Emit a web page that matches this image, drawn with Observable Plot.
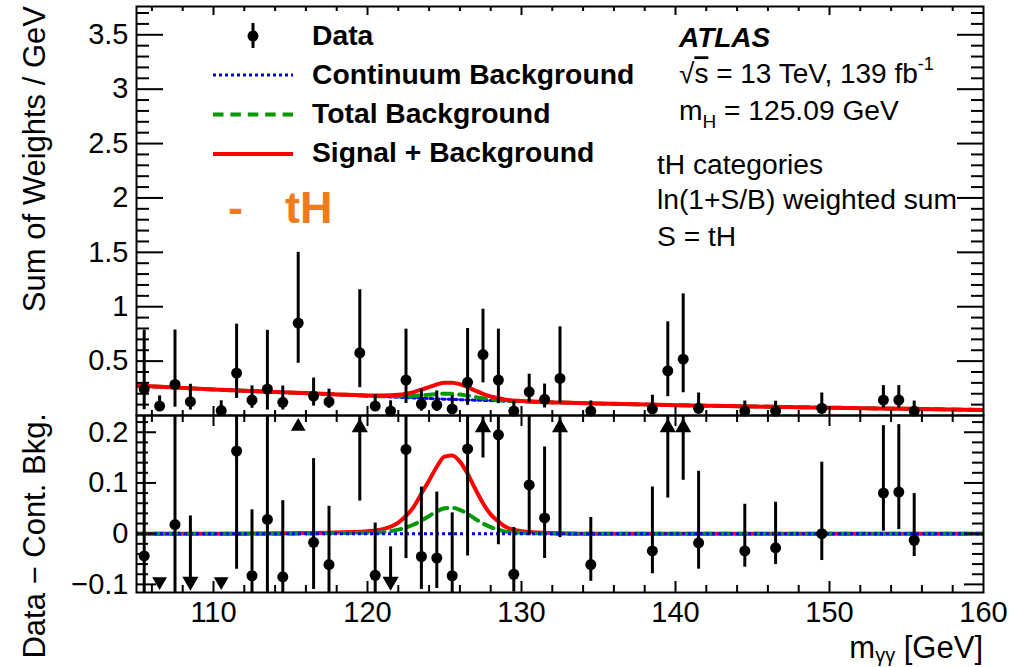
<!DOCTYPE html>
<html>
<head>
<meta charset="utf-8">
<script src="https://cdn.jsdelivr.net/npm/d3@7"></script>
<script src="https://cdn.jsdelivr.net/npm/@observablehq/plot@0.6"></script>
<style>
  body { margin: 0; background: #fff; }
  #chart { position: relative; width: 1025px; height: 667px; overflow: hidden; }
  #chart svg { position: absolute; left: 0; overflow: visible; }
</style>
</head>
<body>
<div id="chart"></div>
<script>
// Diphoton invariant-mass bins (GeV, bin centres) with data
const massBins = [105.5, 106.5, 107.5, 108.5, 110.5, 111.5, 112.5, 113.5, 114.5, 115.5,
  116.5, 117.5, 119.5, 120.5, 121.5, 122.5, 123.5, 124.5, 125.5, 126.5,
  127.5, 128.5, 129.5, 130.5, 131.5, 132.5, 134.5, 138.5, 139.5, 140.5,
  141.5, 144.5, 146.5, 149.5, 153.5, 154.5, 155.5];
// ln(1+S/B)-weighted sum per GeV
const sumWeights = [0.243, 0.087, 0.286, 0.127, 0.045, 0.390, 0.142, 0.243, 0.121, 0.850,
  0.179, 0.127, 0.576, 0.087, 0.041, 0.326, 0.105, 0.096, 0.060, 0.305,
  0.560, 0.326, 0.041, 0.218, 0.149, 0.341, 0.041, 0.060, 0.411, 0.518,
  0.066, 0.041, 0.041, 0.066, 0.142, 0.142, 0.041];
const errUp = [0.540, 0.093, 0.500, 0.160, 0.090, 0.450, 0.130, 0.540, 0.150, 0.650,
  0.165, 0.115, 0.580, 0.103, 0.094, 0.468, 0.137, 0.130, 0.124, 0.495,
  0.417, 0.468, 0.092, 0.162, 0.140, 0.474, 0.093, 0.126, 0.450, 0.600,
  0.141, 0.092, 0.090, 0.141, 0.133, 0.133, 0.092];
const errDown = [0.190, 0.050, 0.210, 0.077, 0.035, 0.233, 0.076, 0.193, 0.071, 0.370,
  0.093, 0.061, 0.320, 0.050, 0.035, 0.215, 0.065, 0.060, 0.040, 0.211,
  0.260, 0.217, 0.035, 0.100, 0.080, 0.228, 0.033, 0.045, 0.238, 0.309,
  0.052, 0.032, 0.033, 0.053, 0.075, 0.074, 0.032];
// Data minus continuum background
const residuals = [-0.044, -0.215, 0.018, -0.125, -0.215, 0.163, -0.083, 0.028, -0.085, 0.610,
  -0.017, -0.061, 0.400, -0.082, -0.120, 0.166, -0.045, -0.048, -0.083, 0.167,
  0.425, 0.195, -0.080, 0.096, 0.031, 0.236, -0.061, -0.034, 0.324, 0.430,
  -0.018, -0.034, -0.028, 0.000, 0.080, 0.082, -0.013];

// Fitted curves sampled along the mass axis
const curveMass = [105, 110, 115, 117.5, 120, 121, 122, 122.5, 123, 123.5, 124, 124.5, 125, 125.5,
  126, 126.5, 127, 127.5, 128, 128.5, 129, 130, 132.5, 135, 140, 145, 150, 155, 160];
const continuumBkg = [0.275, 0.240, 0.210, 0.195, 0.180, 0.174, 0.168, 0.165, 0.162, 0.159, 0.156, 0.153, 0.150, 0.148,
  0.146, 0.143, 0.141, 0.139, 0.137, 0.134, 0.132, 0.128, 0.119, 0.110, 0.095, 0.083, 0.072, 0.061, 0.051];
const totalBkg = [0.275, 0.240, 0.210, 0.196, 0.182, 0.177, 0.176, 0.177, 0.180, 0.185, 0.191, 0.197, 0.200, 0.199,
  0.193, 0.182, 0.170, 0.159, 0.150, 0.142, 0.136, 0.130, 0.119, 0.110, 0.095, 0.083, 0.072, 0.061, 0.051];
const signalPlusBkg = [0.275, 0.240, 0.211, 0.197, 0.185, 0.183, 0.190, 0.200, 0.215, 0.238, 0.261, 0.285, 0.302, 0.302,
  0.288, 0.261, 0.229, 0.199, 0.175, 0.158, 0.145, 0.133, 0.120, 0.110, 0.095, 0.083, 0.072, 0.061, 0.051];
const totalBkgResid = [0, 0, 0, 0.001, 0.002, 0.003, 0.008, 0.012, 0.018, 0.026, 0.035, 0.044, 0.050, 0.051,
  0.047, 0.039, 0.029, 0.020, 0.013, 0.008, 0.004, 0.002, 0, 0, 0, 0, 0, 0, 0];
const signalPlusBkgResid = [0, 0, 0.001, 0.002, 0.005, 0.009, 0.022, 0.035, 0.053, 0.079, 0.105, 0.132, 0.152, 0.154,
  0.142, 0.118, 0.088, 0.060, 0.038, 0.024, 0.013, 0.005, 0.001, 0, 0, 0, 0, 0, 0];

// Axis ticks
const massTicks = [110, 120, 130, 140, 150, 160];
const topTicks = [0.5, 1, 1.5, 2, 2.5, 3, 3.5];
const bottomTicks = [-0.1, 0, 0.1, 0.2];

const FONT = '"Liberation Sans", Arial, Helvetica, sans-serif';
const X_DOMAIN = [105, 160];
const TOP_Y = [0, 3.76];
const BOT_Y = [-0.116, 0.233];
const W = 1025, ML = 136, MR = 42, FW = W - ML - MR;
const TOP_H = 425, TOP_MT = 6, TOP_MB = 10, TOP_FH = TOP_H - TOP_MT - TOP_MB;
const BOT_H = 262, BOT_MT = 10, BOT_MB = 75, BOT_FH = BOT_H - BOT_MT - BOT_MB;
const BOT_OFFSET = 405;

const points = massBins.map((m, i) => ({
  m, w: sumWeights[i], hi: errUp[i], lo: errDown[i], r: residuals[i]
}));
const curves = curveMass.map((m, i) => ({
  m, cont: continuumBkg[i], tot: totalBkg[i], spb: signalPlusBkg[i],
  bres: totalBkgResid[i], sres: signalPlusBkgResid[i]
}));

const near = (v, step) => Math.abs(v / step - Math.round(v / step)) < 1e-6;
const minorMass = d3.range(106, 160, 2).filter(v => !near(v, 10));
const majorMass = [110, 120, 130, 140, 150];
const topMinor = d3.range(1, 38).map(k => k / 10).filter(v => !near(v, 0.5));
const botMinor = d3.range(-5, 12).map(k => k / 50).filter(v => !near(v, 0.1) && v >= BOT_Y[0] && v <= BOT_Y[1]);

// Inward ticks on all four sides of a panel frame
function frameTicks(yMajor, yMinor, yMajLen, yMinLen, xMajLen, xMinLen, FH) {
  const s = {stroke: "black", strokeWidth: 2};
  return [
    Plot.tickY(yMajor, {y: d => d, insetRight: FW - yMajLen, ...s}),
    Plot.tickY(yMajor, {y: d => d, insetLeft: FW - yMajLen + 1, ...s}),
    Plot.tickY(yMinor, {y: d => d, insetRight: FW - yMinLen, ...s}),
    Plot.tickY(yMinor, {y: d => d, insetLeft: FW - yMinLen + 1, ...s}),
    Plot.tickX(majorMass, {x: d => d, insetTop: FH - xMajLen, ...s}),
    Plot.tickX(majorMass, {x: d => d, insetBottom: FH - xMajLen, ...s}),
    Plot.tickX(minorMass, {x: d => d, insetTop: FH - xMinLen, ...s}),
    Plot.tickX(minorMass, {x: d => d, insetBottom: FH - xMinLen, ...s})
  ];
}

const baseStyle = {fontFamily: FONT, fontSize: "29px", background: "none", color: "black"};

// ---- Upper panel: weighted sum with fitted curves ----
const upperChart = Plot.plot({
  width: W, height: TOP_H,
  marginLeft: ML, marginRight: MR, marginTop: TOP_MT, marginBottom: TOP_MB,
  style: baseStyle,
  x: {domain: X_DOMAIN, axis: null},
  y: {domain: TOP_Y, axis: null},
  marks: [
    Plot.line(curves, {x: "m", y: "cont", stroke: "#0000ff", strokeWidth: 3, strokeDasharray: "3,3", curve: "monotone-x", clip: true}),
    Plot.line(curves, {x: "m", y: "tot", stroke: "#009a00", strokeWidth: 4, strokeDasharray: "10,7", curve: "monotone-x", clip: true}),
    Plot.line(curves, {x: "m", y: "spb", stroke: "#ff0000", strokeWidth: 4, curve: "monotone-x", clip: true}),
    Plot.ruleX(points, {x: "m", y1: d => d.w - d.lo, y2: d => d.w + d.hi, stroke: "black", strokeWidth: 3, clip: true}),
    Plot.dot(points, {x: "m", y: "w", r: 5.5, fill: "black"}),
    ...frameTicks(topTicks, topMinor, 27, 13, 9, 5, TOP_FH),
    Plot.frame({stroke: "black", strokeWidth: 2}),
    Plot.axisY(topTicks, {tickSize: 0, tickPadding: 8, label: null, fontSize: 29, tickFormat: d => String(d)})
  ]
});

// ---- Lower panel: data minus continuum background ----
const inRange = points.filter(d => d.r >= BOT_Y[0] && d.r <= BOT_Y[1]);
const above = points.filter(d => d.r > BOT_Y[1]);
const below = points.filter(d => d.r < BOT_Y[0]);
const upArrows = above.filter(d => d.r - d.lo <= BOT_Y[1]);
const upMarkers = above.filter(d => d.r - d.lo > BOT_Y[1]);
const downArrows = below.filter(d => d.r + d.hi >= BOT_Y[0]);
const downMarkers = below.filter(d => d.r + d.hi < BOT_Y[0]);

const lowerChart = Plot.plot({
  width: W, height: BOT_H,
  marginLeft: ML, marginRight: MR, marginTop: BOT_MT, marginBottom: BOT_MB,
  style: baseStyle,
  x: {domain: X_DOMAIN, axis: null},
  y: {domain: BOT_Y, axis: null},
  marks: [
    Plot.line(curves, {x: "m", y: "sres", stroke: "#ff0000", strokeWidth: 4, curve: "monotone-x", clip: true}),
    Plot.line(curves, {x: "m", y: "bres", stroke: "#009a00", strokeWidth: 4, strokeDasharray: "10,7", curve: "monotone-x", clip: true}),
    Plot.ruleY([0], {stroke: "#0000ff", strokeWidth: 3, strokeDasharray: "3,3"}),
    Plot.ruleX(inRange, {x: "m", y1: d => d.r - d.lo, y2: d => d.r + d.hi, stroke: "black", strokeWidth: 3, clip: true}),
    Plot.dot(inRange, {x: "m", y: "r", r: 5.5, fill: "black"}),
    Plot.ruleX(upArrows, {x: "m", y1: d => d.r - d.lo, y2: () => BOT_Y[1], insetTop: 8, stroke: "black", strokeWidth: 3}),
    Plot.dot(upArrows, {x: "m", y: () => BOT_Y[1], symbol: "triangle", r: 6, fill: "black", dy: 12}),
    Plot.dot(upMarkers, {x: "m", y: () => BOT_Y[1], symbol: "triangle", r: 5.5, fill: "black", dy: 11}),
    Plot.ruleX(downArrows, {x: "m", y1: d => d.r + d.hi, y2: () => BOT_Y[0], insetBottom: 6, stroke: "black", strokeWidth: 3}),
    Plot.dot(downArrows, {x: "m", y: () => BOT_Y[0], symbol: "triangle", rotate: 180, r: 6, fill: "black", dy: -11}),
    Plot.dot(downMarkers, {x: "m", y: () => BOT_Y[0], symbol: "triangle", rotate: 180, r: 5.5, fill: "black", dy: -11}),
    ...frameTicks(bottomTicks, botMinor, 20, 12, 11, 7, BOT_FH),
    Plot.frame({stroke: "black", strokeWidth: 2}),
    Plot.axisY(bottomTicks, {tickSize: 0, tickPadding: 8, label: null, fontSize: 29,
      tickFormat: d => d < 0 ? "\u2212" + Math.abs(d) : String(d)}),
    Plot.axisX(massTicks, {tickSize: 0, tickPadding: 9, label: null, fontSize: 29, tickFormat: d => String(d)})
  ]
});

const chart = document.getElementById("chart");
upperChart.style.top = "0px";
lowerChart.style.top = BOT_OFFSET + "px";
chart.appendChild(upperChart);
chart.appendChild(lowerChart);

// ---- Legend, labels and axis titles ----
const st = d3.select(upperChart);
const g = st.append("g").attr("font-family", FONT).attr("fill", "black").attr("text-anchor", "start");

// legend samples
g.append("line").attr("x1", 253).attr("x2", 253).attr("y1", 23).attr("y2", 48)
  .attr("stroke", "black").attr("stroke-width", 3);
g.append("circle").attr("cx", 253).attr("cy", 36).attr("r", 5.5).attr("fill", "black");
g.append("line").attr("x1", 213).attr("x2", 293).attr("y1", 75).attr("y2", 75)
  .attr("stroke", "#0000ff").attr("stroke-width", 3).attr("stroke-dasharray", "3,3");
g.append("line").attr("x1", 213).attr("x2", 293).attr("y1", 114.5).attr("y2", 114.5)
  .attr("stroke", "#009a00").attr("stroke-width", 4).attr("stroke-dasharray", "10.5,6.9");
g.append("line").attr("x1", 213).attr("x2", 293).attr("y1", 154).attr("y2", 154)
  .attr("stroke", "#ff0000").attr("stroke-width", 4);

const legendLabels = ["Data", "Continuum Background", "Total Background", "Signal + Background"];
const legendBase = [44.5, 83.7, 122.9, 162.1];
legendLabels.forEach((t, i) => {
  g.append("text").attr("x", 312).attr("y", legendBase[i])
    .attr("font-size", 28.3).attr("font-weight", "bold").text(t);
});

// process tag
g.append("text").attr("x", 228).attr("y", 223).attr("font-size", 45).attr("font-weight", "bold")
  .attr("fill", "#ef7b1e").text("-");
g.append("text").attr("x", 285).attr("y", 223).attr("font-size", 45).attr("font-weight", "bold")
  .attr("fill", "#ef7b1e").text("tH");

// experiment block
g.append("text").attr("x", 679).attr("y", 46.5).attr("font-size", 28)
  .attr("font-weight", "bold").attr("font-style", "italic").text("ATLAS");

const t1 = g.append("text").attr("x", 679).attr("y", 83.3).attr("font-size", 28);
t1.append("tspan").text("\u221A");
t1.append("tspan").style("text-decoration", "overline").text("s");
t1.append("tspan").text(" = 13 TeV, 139 fb");
t1.append("tspan").attr("font-size", 18).attr("dy", -13).text("-1");

const t2 = g.append("text").attr("x", 679).attr("y", 120).attr("font-size", 28.2);
t2.append("tspan").text("m");
t2.append("tspan").attr("font-size", 19).attr("dy", 8).text("H");
t2.append("tspan").attr("dy", -8).text(" = 125.09 GeV");

g.append("text").attr("x", 657).attr("y", 174).attr("font-size", 28.2).text("tH categories");
g.append("text").attr("x", 657).attr("y", 208.5).attr("font-size", 28.2).text("ln(1+S/B) weighted sum");
g.append("text").attr("x", 657).attr("y", 245.5).attr("font-size", 28.2).text("S = tH");

// upper y title
g.append("text").attr("transform", "translate(45,6) rotate(-90)")
  .attr("text-anchor", "end").attr("font-size", 31).text("Sum of Weights / GeV");

// lower panel titles
const sb = d3.select(lowerChart);
const gb = sb.append("g").attr("font-family", FONT).attr("fill", "black").attr("text-anchor", "start");
gb.append("text").attr("transform", `translate(45,${413 - BOT_OFFSET}) rotate(-90)`)
  .attr("text-anchor", "end").attr("font-size", 31).text("Data \u2212 Cont. Bkg.");

const xt = gb.append("text").attr("x", 983).attr("y", 658 - BOT_OFFSET)
  .attr("text-anchor", "end").attr("font-size", 31);
xt.append("tspan").text("m");
xt.append("tspan").attr("font-size", 20).attr("dy", 4).text("\u03B3\u03B3");
xt.append("tspan").attr("dy", -4).text(" [GeV]");
</script>
</body>
</html>
